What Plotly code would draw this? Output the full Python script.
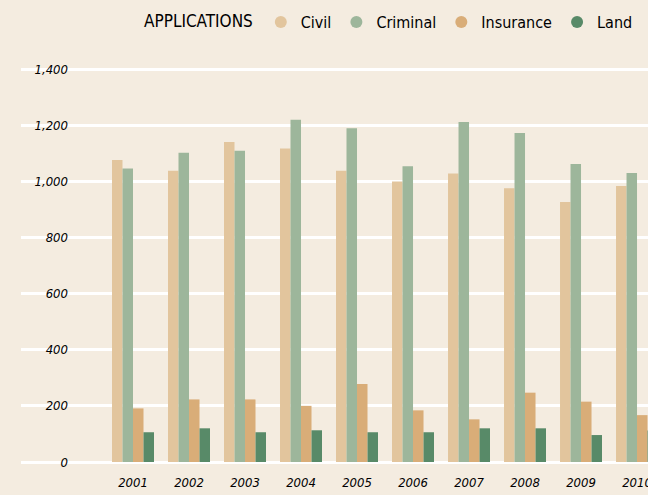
import plotly.graph_objects as go

years = ["2001", "2002", "2003", "2004", "2005", "2006", "2007", "2008", "2009", "2010"]
civil = [1076, 1038, 1140, 1117, 1038, 999, 1028, 975, 926, 983]
criminal = [1046, 1102, 1109, 1219, 1189, 1054, 1211, 1172, 1062, 1030]
insurance = [191, 223, 223, 200, 278, 184, 152, 247, 215, 167]
land = [106, 120, 106, 113, 106, 106, 120, 120, 96, 112]

series_names = ["Civil", "Criminal", "Insurance", "Land"]
series_values = [civil, criminal, insurance, land]
colors = ["#e2c59d", "#9db69b", "#d9ad78", "#588a68"]

y_ticks = [0, 200, 400, 600, 800, 1000, 1200, 1400]
y_tick_text = ["0", "200", "400", "600", "800", "1,000", "1,200", "1,400"]

FONT = "DejaVu Sans Condensed, Liberation Sans Narrow, sans-serif"
BG = "#f4ece0"
YRANGE = [-10.7, 1450]

fig = go.Figure()
for name, vals, col in zip(series_names, series_values, colors):
    fig.add_trace(go.Bar(x=years, y=vals, name=name, marker=dict(color=col, line=dict(width=0)),
                         showlegend=False))
# legend entries with circular symbols
for name, col in zip(series_names, colors):
    fig.add_trace(go.Scatter(x=[None], y=[None], mode="markers", name=name,
                             marker=dict(symbol="circle", size=16, color=col)))
# invisible trace so the label axis is drawn
fig.add_trace(go.Scatter(x=[years[0]], y=[None], yaxis="y2", showlegend=False,
                         hoverinfo="skip", mode="markers"))

fig.update_layout(
    width=648, height=495,
    paper_bgcolor=BG, plot_bgcolor=BG,
    margin=dict(l=21, r=0, t=55, b=30, autoexpand=False),
    barmode="group", bargap=0.25, bargroupgap=0,
    font=dict(family=FONT, color="#000000"),
    xaxis=dict(type="category", range=[-2, 9.196], autorange=False, showgrid=False,
               zeroline=False, showline=False, ticks="", tickangle=0, automargin=False,
               ticklabelstandoff=8,
               tickfont=dict(family=FONT, size=13, style="italic", color="#000000")),
    yaxis=dict(range=YRANGE, autorange=False, showgrid=True, gridcolor="#ffffff", gridwidth=2.5,
               zeroline=True, zerolinecolor="#ffffff", zerolinewidth=2.5,
               tickvals=y_ticks, showticklabels=False, ticks="", automargin=False),
    yaxis2=dict(range=YRANGE, autorange=False, overlaying="y", anchor="free",
                position=(68 - 21) / 627, automargin=False,
                side="left", showgrid=False, zeroline=False, showline=False, ticks="",
                tickvals=y_ticks, ticktext=y_tick_text,
                tickfont=dict(family=FONT, size=13, style="italic", color="#000000")),
    legend=dict(orientation="h", x=(390 - 21) / 627, xanchor="center",
                y=1 + (55 - 22) / 410, yanchor="middle", itemwidth=30,
                title=dict(text="APPLICATIONS", side="left", font=dict(family=FONT, size=17)),
                font=dict(family=FONT, size=16, color="#000000"),
                bgcolor="rgba(0,0,0,0)", itemsizing="constant"),
)

fig.write_html("out.html", config={"displayModeBar": False},
               post_script="document.body.style.margin='0';document.body.style.background='" + BG + "';")
